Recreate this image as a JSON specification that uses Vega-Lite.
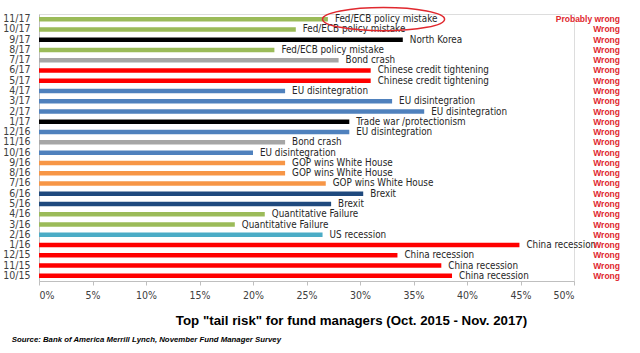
{
  "$schema": "https://vega.github.io/schema/vega-lite/v6.json",
  "autosize": {"type": "none"},
  "width": 535,
  "height": 267,
  "padding": {"left": 39, "top": 14, "right": 66, "bottom": 72},
  "background": "white",
  "title": {
    "text": "Source: Bank of America Merrill Lynch, November Fund Manager Survey",
    "orient": "bottom",
    "anchor": "start",
    "frame": "bounds",
    "font": "Liberation Sans",
    "fontSize": 7.8,
    "fontStyle": "italic",
    "fontWeight": "bold",
    "color": "#000000",
    "offset": 10,
    "dx": 9
  },
  "data": {
    "values": [
      {"month": "11/17", "pct": 27, "risk": "Fed/ECB policy mistake", "verdict": "Probably wrong"},
      {"month": "10/17", "pct": 24, "risk": "Fed/ECB policy mistake", "verdict": "Wrong"},
      {"month": "9/17", "pct": 34, "risk": "North Korea", "verdict": "Wrong"},
      {"month": "8/17", "pct": 22, "risk": "Fed/ECB policy mistake", "verdict": "Wrong"},
      {"month": "7/17", "pct": 28, "risk": "Bond crash", "verdict": "Wrong"},
      {"month": "6/17", "pct": 31, "risk": "Chinese credit tightening", "verdict": "Wrong"},
      {"month": "5/17", "pct": 31, "risk": "Chinese credit tightening", "verdict": "Wrong"},
      {"month": "4/17", "pct": 23, "risk": "EU disintegration", "verdict": "Wrong"},
      {"month": "3/17", "pct": 33, "risk": "EU disintegration", "verdict": "Wrong"},
      {"month": "2/17", "pct": 36, "risk": "EU disintegration", "verdict": "Wrong"},
      {"month": "1/17", "pct": 29, "risk": "Trade war /protectionism", "verdict": "Wrong"},
      {"month": "12/16", "pct": 29, "risk": "EU disintegration", "verdict": "Wrong"},
      {"month": "11/16", "pct": 23, "risk": "Bond crash", "verdict": "Wrong"},
      {"month": "10/16", "pct": 20, "risk": "EU disintegration", "verdict": "Wrong"},
      {"month": "9/16", "pct": 23, "risk": "GOP wins White House", "verdict": "Wrong"},
      {"month": "8/16", "pct": 23, "risk": "GOP wins White House", "verdict": "Wrong"},
      {"month": "7/16", "pct": 26.8, "risk": "GOP wins White House", "verdict": "Wrong"},
      {"month": "6/16", "pct": 30.3, "risk": "Brexit", "verdict": "Wrong"},
      {"month": "5/16", "pct": 27.3, "risk": "Brexit", "verdict": "Wrong"},
      {"month": "4/16", "pct": 21.1, "risk": "Quantitative  Failure", "verdict": "Wrong"},
      {"month": "3/16", "pct": 18.3, "risk": "Quantitative  Failure", "verdict": "Wrong"},
      {"month": "2/16", "pct": 26.5, "risk": "US recession", "verdict": "Wrong"},
      {"month": "1/16", "pct": 44.9, "risk": "China recession", "verdict": "Wrong"},
      {"month": "12/15", "pct": 33.5, "risk": "China recession", "verdict": "Wrong"},
      {"month": "11/15", "pct": 37.6, "risk": "China recession", "verdict": "Wrong"},
      {"month": "10/15", "pct": 38.6, "risk": "China recession", "verdict": "Wrong"}
    ]
  },
  "encoding": {
    "y": {
      "field": "month",
      "type": "nominal",
      "sort": null,
      "scale": {"paddingInner": 0, "paddingOuter": 0},
      "axis": {
        "title": null,
        "ticks": false,
        "domainColor": "#bfbfbf",
        "labelFont": "DejaVu Sans Condensed",
        "labelFontSize": 10.5,
        "labelColor": "#404040",
        "labelPadding": 9
      }
    }
  },
  "layer": [
    {
      "mark": {"type": "bar", "height": 4.5},
      "encoding": {
        "x": {
          "field": "pct",
          "type": "quantitative",
          "scale": {"domain": [0, 50], "nice": false},
          "axis": {
            "values": [0, 5, 10, 15, 20, 25, 30, 35, 40, 45, 50],
            "labelExpr": "datum.value + '%'",
            "grid": false,
            "domainColor": "#bfbfbf",
            "tickColor": "#bfbfbf",
            "tickSize": 4,
            "labelFont": "DejaVu Sans Condensed",
            "labelFontSize": 10.5,
            "labelColor": "#404040",
            "labelPadding": 5,
            "title": "Top \"tail risk\" for fund managers (Oct. 2015 - Nov. 2017)",
            "titleFont": "Liberation Sans",
            "titleFontSize": 13.3,
            "titleFontWeight": "bold",
            "titleColor": "#000000",
            "titleX": 312,
            "titleY": 39,
            "titleBaseline": "middle"
          }
        },
        "color": {
          "field": "risk",
          "type": "nominal",
          "legend": null,
          "scale": {
            "domain": ["Fed/ECB policy mistake", "North Korea", "Bond crash", "Chinese credit tightening", "EU disintegration", "Trade war /protectionism", "GOP wins White House", "Brexit", "Quantitative  Failure", "US recession", "China recession"],
            "range": ["#9BBB59", "#000000", "#A6A6A6", "#FF0000", "#4F81BD", "#000000", "#F79646", "#1F497D", "#9BBB59", "#4BACC6", "#FF0000"]
          }
        }
      }
    },
    {
      "mark": {"type": "text", "align": "left", "baseline": "middle", "dx": 7, "font": "DejaVu Sans Condensed", "fontSize": 9.8, "color": "#262626"},
      "encoding": {
        "x": {"field": "pct", "type": "quantitative"},
        "text": {"field": "risk"}
      }
    },
    {
      "mark": {"type": "text", "align": "right", "baseline": "middle", "font": "Liberation Sans", "fontSize": 8.5, "fontWeight": "bold", "color": "#E0282E"},
      "encoding": {
        "x": {"datum": 54.3},
        "text": {"field": "verdict"}
      }
    },
    {
      "transform": [{"filter": "datum.month === '11/17'"}],
      "mark": {"type": "point", "shape": "M-1,0 A1,0.19 0 1,0 1,0 A1,0.19 0 1,0 -1,0 Z", "size": 14900, "filled": false, "stroke": "#E0282E", "strokeWidth": 1.5, "opacity": 1},
      "encoding": {
        "x": {"datum": 32.2}
      }
    }
  ]
}
